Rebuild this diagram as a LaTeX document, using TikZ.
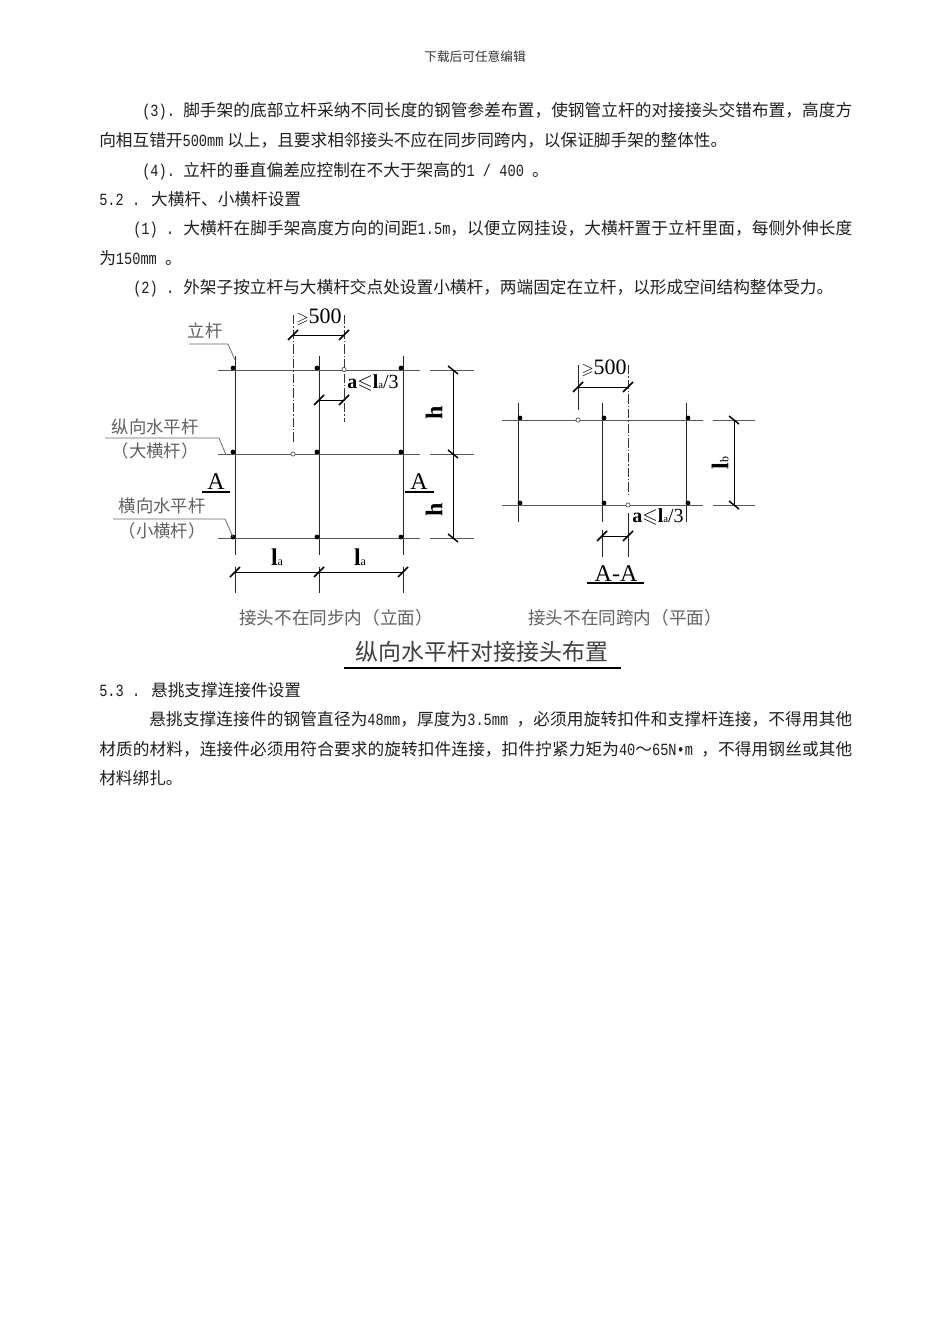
\documentclass[tikz,border=0pt]{standalone}
\usepackage{amssymb}
\usepackage{fontspec}
\setmainfont{Noto Sans CJK SC}
\newfontfamily\monof[FakeStretch=0.8]{Liberation Mono}
\newfontfamily\serf{Liberation Serif}
\newcommand{\mn}[1]{{\monof\fontsize{12.8}{15}\selectfont #1}}
\XeTeXlinebreaklocale "zh"
\XeTeXlinebreakskip=0pt plus 3pt minus 0.5pt
\newcommand{\jl}[2]{\vbox{\hsize=#1pt\parindent=0pt\parfillskip=0pt\tolerance=9999\emergencystretch=5pt\leavevmode #2}}
\newcommand{\pre}[1]{\hbox to 30.75pt{#1\hfil}}
\newcommand{\la}[1]{{\bfseries l}{\fontsize{#1}{#1}\selectfont a}}
\newcommand{\gs}{{\fontsize{12}{12}\selectfont$\geqslant$}}
\tikzset{
  body/.style={anchor=base west,inner sep=0pt,text=black!88,font=\fontsize{12.5}{15}\selectfont,yshift=-1.1pt},
  lab/.style={inner sep=0pt,text=black!62,font=\fontsize{13}{15}\selectfont},
  capt/.style={inner sep=0pt,text=black!62,font=\fontsize{13.2}{15}\selectfont},
  num/.style={inner sep=0pt,text=black,font=\serf\fontsize{16.5}{18}\selectfont},
  alab/.style={inner sep=0pt,text=black,font=\serf\fontsize{15}{18}\selectfont},
  big/.style={inner sep=0pt,text=black,font=\serf\fontsize{18}{20}\selectfont},
  bar/.style={line width=0.55pt,draw=black!85},
  rail/.style={line width=0.7pt,draw=black!65},
  dimline/.style={line width=0.55pt,draw=black},
  tickmark/.style={line width=1.1pt,draw=black},
  lead/.style={line width=0.55pt,draw=black!60},
  cdash/.style={line width=0.55pt,draw=black!80,dash pattern=on 7pt off 1.5pt on 1pt off 1.5pt},
  joint/.style={circle,fill=black,inner sep=0pt,minimum size=3.6pt},
  hole/.style={circle,draw=black!75,fill=white,line width=0.45pt,inner sep=0pt,minimum size=3.2pt}
}
\newcommand{\tks}[2]{\draw[tickmark] ([shift={(-5,5)}]#1,#2) -- ([shift={(5,-5)}]#1,#2);}
\newcommand{\tkb}[2]{\draw[tickmark] ([shift={(-5,-4)}]#1,#2) -- ([shift={(5,4)}]#1,#2);}
\begin{document}
\begin{tikzpicture}[x=0.75pt,y=-0.75pt]
\useasboundingbox (0,0) rectangle (950,1344);
\fill[white] (0,0) rectangle (950,1344);

% ---- text
\node[inner sep=0pt,text=black!80,font=\fontsize{9.5}{12}\selectfont] (hdr) at (475,57) {下载后可任意编辑};
\node[body] (t1) at (142,115.5) {\jl{532.5}{\pre{\mn{(3).}}脚手架的底部立杆采纳不同长度的钢管参差布置，使钢管立杆的对接接头交错布置，高度方}};
\node[body] (t2) at (99,145) {向相互错开\mn{500mm} 以上，且要求相邻接头不应在同步同跨内，以保证脚手架的整体性。};
\node[body] (t3) at (142,175) {\pre{\mn{(4).}}立杆的垂直偏差应控制在不大于架高的\mn{1 / 400 }。};
\node[body] (t4) at (99,204) {\mn{5.2 . }大横杆、小横杆设置};
\node[body] (t5) at (133,233.5) {\jl{539.25}{\hbox to 37.5pt{\mn{(1) .}\hfil}大横杆在脚手架高度方向的间距\mn{1.5m}，以便立网挂设，大横杆置于立杆里面，每侧外伸长度}};
\node[body] (t6) at (99,263) {为\mn{150mm }。};
\node[body] (t7) at (133,292.5) {\hbox to 37.5pt{\mn{(2) .}\hfil}外架子按立杆与大横杆交点处设置小横杆，两端固定在立杆，以形成空间结构整体受力。};
\node[body] (t8) at (99,695.5) {\mn{5.3 . }悬挑支撑连接件设置};
\node[body] (t9) at (149,724.5) {\jl{527.25}{悬挑支撑连接件的钢管直径为\mn{48mm}，厚度为\mn{3.5mm }，必须用旋转扣件和支撑杆连接，不得用其他}};
\node[body] (t10) at (99,754) {\jl{564.75}{材质的材料，连接件必须用符合要求的旋转扣件连接，扣件拧紧力矩为\mn{40}～\mn{65N•m }，不得用钢丝或其他}};
\node[body] (t11) at (99,783.5) {材料绑扎。};

% ---- left elevation
\foreach \x in {235,319,403} {
  \draw[bar] (\x,356) -- (\x,555);
  \draw[bar] (\x,567) -- (\x,593);
}
\foreach \y in {370,454,538} {
  \draw[rail] (218,\y) -- (420,\y);
  \draw[rail] (430,\y) -- (474,\y);
}
\foreach \x in {233,317,401} \foreach \y in {368,452,537}
  \node[joint] at (\x,\y) {};
\draw[cdash] (293,315) -- (293,443);
\draw[cdash] (344,315) -- (344,422);
\node[hole] (h1) at (293,454) {};
\node[hole] (h2) at (344,369.5) {};
% dims
\draw[dimline] (293,335) -- (344,335); \tks{293}{335} \tks{344}{335}
\draw[dimline] (319,400) -- (344,400); \tks{319}{400} \tks{344}{400}
\draw[dimline] (235,572) -- (403,572); \tks{235}{572} \tks{319}{572} \tks{403}{572}
\draw[dimline] (453,370) -- (453,538); \tkb{453}{370} \tkb{453}{454} \tkb{453}{538}
\node[num] (d1) at (319,317) {\gs 500};
\node[alab] (d2) at (373,383) {{\bfseries a}$\leqslant$\la{8}/3};
\node[big,rotate=90] (h3) at (434,413) {\bfseries h};
\node[big,rotate=90] (h4) at (434,510) {\bfseries h};
\node[big] (l1) at (277,557) {\la{9}};
\node[big] (l2) at (360,557) {\la{9}};
\node[big] (a1) at (216,482) {A};
\node[big] (a2) at (419,482) {A};
\draw[line width=1pt] (202,492) -- (230,492);
\draw[line width=1pt] (405,492) -- (434,492);
% leaders
\node[lab] (n1) at (205,331) {立杆};
\draw[lead] (189,344) -- (228,344) -- (235,360);
\node[lab] (n2) at (155,427) {纵向水平杆};
\node[lab] (n3) at (155,451) {（大横杆）};
\draw[lead] (105,438) -- (219,438) -- (226,455);
\node[lab] (n4) at (162,506) {横向水平杆};
\node[lab] (n5) at (162,531) {（小横杆）};
\draw[lead] (113,519) -- (225,519) -- (233,537);
\node[capt] (c1) at (336,618) {接头不在同步内（立面）};

% ---- right plan
\foreach \x in {518,602,686} \draw[bar] (\x,403) -- (\x,522);
\draw[bar] (602,530) -- (602,557);
\foreach \y in {420,505} {
  \draw[rail] (502,\y) -- (703,\y);
  \draw[rail] (713,\y) -- (755,\y);
}
\foreach \x in {520,604,688} \foreach \y in {418,503}
  \node[joint] at (\x,\y) {};
\draw[bar] (578,365) -- (578,410);
\draw[cdash] (628,365) -- (628,497);
\draw[bar] (628,513) -- (628,557);
\node[hole] (h5) at (578,420) {};
\node[hole] (h6) at (628,505) {};
\draw[dimline] (578,387) -- (628,387); \tks{578}{387} \tks{628}{387}
\draw[dimline] (602,536) -- (628,536); \tks{602}{536} \tks{628}{536}
\draw[dimline] (734,420) -- (734,505); \tkb{734}{420} \tkb{734}{505}
\node[num] (d3) at (604,368) {\gs 500};
\node[alab] (d4) at (658,517) {{\bfseries a}$\leqslant$\la{8}/3};
\node[big,rotate=90] (lb) at (720,463) {{\bfseries l}{\fontsize{9}{9}\selectfont b}};
\node[big] (aa) at (616,574) {A-A};
\draw[line width=1.3pt] (587,583) -- (644,583);
\node[capt] (c2) at (625,618) {接头不在同跨内（平面）};

% ---- title
\node[inner sep=0pt,text=black!75,font=\fontsize{17.2}{20}\selectfont] (ttl) at (482,652) {纵向水平杆对接接头布置};
\draw[line width=2pt] (344,668) -- (621,668);
\end{tikzpicture}
\end{document}
